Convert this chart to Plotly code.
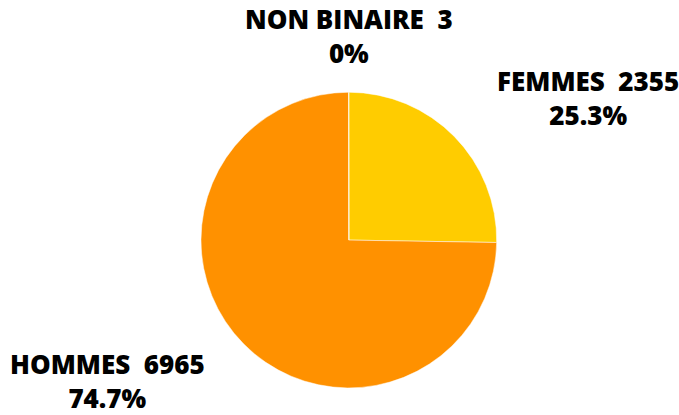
import plotly.graph_objects as go

labels = ["FEMMES", "HOMMES", "NON BINAIRE"]
values = [2355, 6965, 3]
colors = ["#FFCC00", "#FF9100", "#FFB000"]

total = sum(values)

def pct(v):
    p = round(100 * v / total, 1)
    return f"{p:g}%"

fig = go.Figure()
fig.add_trace(go.Pie(
    labels=labels,
    values=values,
    sort=False,
    direction="clockwise",
    rotation=0,
    marker=dict(colors=colors, line=dict(color="white", width=0.5)),
    textinfo="none",
    hoverinfo="label+value+percent",
    showlegend=False,
    domain=dict(x=[0.296, 0.7315], y=[0.065, 0.778]),
))

# label positions (paper coords)
label_pos = {"FEMMES": (0.866, 0.764), "HOMMES": (0.159, 0.082), "NON BINAIRE": (0.514, 0.914)}
for lab, v in zip(labels, values):
    x, y = label_pos[lab]
    fig.add_annotation(
        x=x, y=y, xref="paper", yref="paper",
        text=f"{lab}\u00a0\u00a0{v}<br>{pct(v)}",
        showarrow=False, xanchor="center", yanchor="middle",
        font=dict(family="Open Sans", size=26, color="black", weight=800),
    )

fig.update_layout(
    width=679, height=415,
    margin=dict(l=0, r=0, t=0, b=0),
    paper_bgcolor="white",
    plot_bgcolor="white",
)

# page has a default body margin; remove it so the figure fills the window
fig.write_html("out.html", config={"displayModeBar": False},
               post_script="document.body.style.margin='0';")
